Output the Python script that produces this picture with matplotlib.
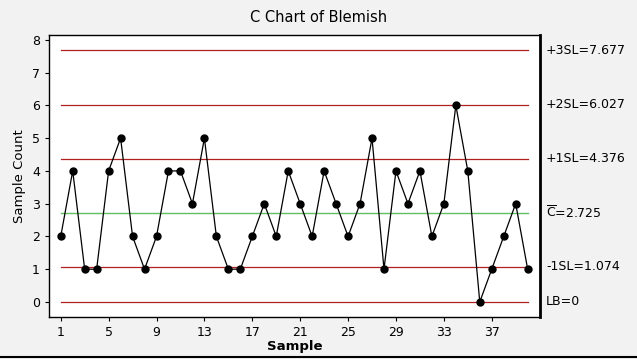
import matplotlib
matplotlib.use("Agg")
import matplotlib.pyplot as plt
from matplotlib.lines import Line2D

samples = list(range(1, 41))
counts = [2, 4, 1, 1, 4, 5, 2, 1, 2, 4,
          4, 3, 5, 2, 1, 1, 2, 3, 2, 4,
          3, 2, 4, 3, 2, 3, 5, 1, 4, 3,
          4, 2, 3, 6, 4, 0, 1, 2, 3, 1]
limit_values = [7.677, 6.027, 4.376, 1.074, 0.0]
limit_labels = ["+3SL=7.677", "+2SL=6.027", "+1SL=4.376", "-1SL=1.074", "LB=0"]
center_value = 2.725
center_label = r"$\overline{\mathrm{C}}$=2.725"
xticks = [1, 5, 9, 13, 17, 21, 25, 29, 33, 37]
yticks = [0, 1, 2, 3, 4, 5, 6, 7, 8]

plt.rcParams["mathtext.fontset"] = "dejavusans"

fig = plt.figure(figsize=(6.37, 3.59), dpi=100, facecolor="#f2f2f2")
ax = fig.add_axes([49/637, 1-317/359, (540-49)/637, (317-35)/359])
ax.set_facecolor("white")

for v in limit_values:
    ax.plot([samples[0], samples[-1]], [v, v], color="#b02020", lw=0.9, zorder=1)
ax.plot([samples[0], samples[-1]], [center_value, center_value], color="#60c060", lw=1.0, zorder=1)

ax.plot(samples, counts, color="black", lw=0.9, marker="o", markersize=5, zorder=3)

ax.set_xlim(0.02, 41.03)
ax.set_ylim(-0.46, 8.15)
ax.set_xticks(xticks)
ax.set_yticks(yticks)
ax.tick_params(axis="both", labelsize=9, direction="out", length=3, width=0.8, colors="black")
for s in ["left", "bottom", "top"]:
    ax.spines[s].set_linewidth(1.0)
ax.spines["right"].set_linewidth(2.0)

for v, lab in zip(limit_values + [center_value], limit_labels + [center_label]):
    ax.text(1.012, v, lab, transform=ax.get_yaxis_transform(), va="center", ha="left", fontsize=9)

ax.set_xlabel("Sample", fontsize=9.5, fontweight="bold", labelpad=1)
ax.set_ylabel("Sample Count", fontsize=9.5, labelpad=4)
fig.text(0.5, 1-17/359, "C Chart of Blemish", ha="center", va="center", fontsize=10.5)

fig.add_artist(Line2D([0, 1], [2.5/359, 2.5/359], transform=fig.transFigure, color="black", lw=1.5))

fig.savefig("out.png", dpi=100, facecolor=fig.get_facecolor())
